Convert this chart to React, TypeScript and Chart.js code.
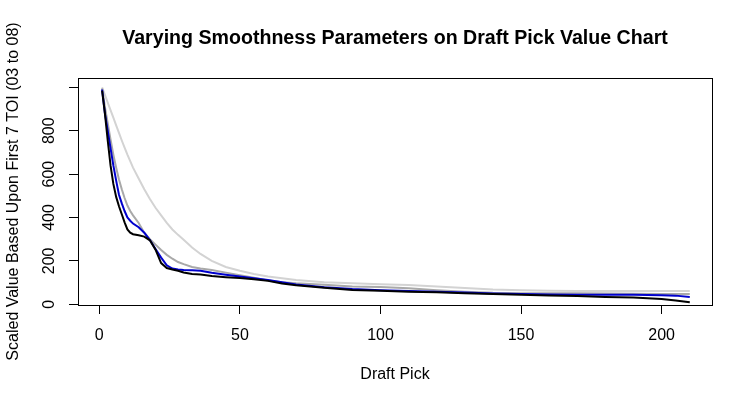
import React, { useEffect, useRef } from "react";
import { Chart, registerables } from "chart.js";

Chart.register(...registerables);

const TITLE = "Varying Smoothness Parameters on Draft Pick Value Chart";
const X_TITLE = "Draft Pick";
const Y_TITLE = "Scaled Value Based Upon First 7 TOI (03 to 08)";

const picks = [1, 2, 3, 4, 5, 6, 7, 8, 9, 10, 11, 12, 14, 16, 18, 20, 22, 24, 26, 28, 30, 33, 36, 40, 45, 50, 55, 60, 65, 70, 80, 90, 100, 110, 120, 130, 140, 150, 160, 170, 180, 190, 200, 205, 210];

const blackSeries = [985, 880, 755, 640, 555, 495, 452, 415, 378, 345, 330, 323, 318, 312, 295, 252, 190, 167, 160, 155, 147, 140, 137, 130, 125, 121, 116, 108, 96, 88, 76, 66, 62, 58, 55, 51, 47, 44, 41, 38, 34, 31, 24, 18, 9];
const blueSeries = [990, 880, 800, 720, 640, 570, 505, 465, 430, 400, 385, 372, 355, 330, 296, 255, 215, 180, 165, 160, 158, 157, 155, 145, 136, 128, 120, 112, 102, 91, 79, 70, 65, 61, 58, 54, 50, 47, 45, 44, 44, 44, 42, 40, 34];
const darkGraySeries = [995, 910, 835, 760, 690, 630, 575, 530, 490, 455, 430, 410, 375, 330, 300, 275, 250, 228, 210, 195, 185, 172, 165, 158, 146, 134, 122, 110, 102, 97, 90, 82, 80, 74, 65, 58, 53, 51, 51, 51, 50, 49, 48, 47, 47];
const lightGraySeries = [1000, 965, 930, 895, 860, 825, 790, 755, 722, 690, 660, 630, 580, 530, 485, 445, 410, 375, 345, 320, 298, 262, 232, 200, 172, 155, 140, 128, 120, 112, 102, 97, 93, 89, 82, 75, 68, 65, 63, 61, 61, 61, 61, 61, 61];

const xTicks = [0, 50, 100, 150, 200];
const yTicks = [0, 200, 400, 600, 800, 1000];
const yLabelled = [0, 200, 400, 600, 800];

const FONT = "'Liberation Sans', Arial, sans-serif";

const boxPlugin = {
  id: "rbox",
  afterDraw(chart: any) {
    const { ctx, chartArea } = chart;
    ctx.save();
    ctx.strokeStyle = "#000";
    ctx.lineWidth = 1;
    const l = Math.round(chartArea.left) + 0.5;
    const t = Math.round(chartArea.top) + 0.5;
    const r = Math.round(chartArea.right) + 0.5;
    const b = Math.round(chartArea.bottom) + 0.5;
    ctx.strokeRect(l, t, r - l, b - t);
    ctx.restore();
  },
};

export default function App() {
  const ref = useRef<HTMLCanvasElement | null>(null);
  useEffect(() => {
    if (!ref.current) return;
    const mk = (vals: number[]) => picks.map((x, i) => ({ x, y: vals[i] }));
    const ds = (label: string, vals: number[], color: string) => ({
      label,
      data: mk(vals),
      borderColor: color,
      backgroundColor: color,
      borderWidth: 2,
      pointRadius: 0,
      tension: 0,
      fill: false,
    });
    const chart = new Chart(ref.current, {
      type: "line",
      data: {
        datasets: [
          ds("black", blackSeries, "#000000"),
          ds("blue", blueSeries, "#0000CD"),
          ds("darkgray", darkGraySeries, "#A9A9A9"),
          ds("lightgray", lightGraySeries, "#D3D3D3"),
        ],
      },
      options: {
        responsive: false,
        animation: false,
        devicePixelRatio: 1,
        layout: { padding: { left: 0, right: 41, top: 0, bottom: 0 } },
        plugins: {
          legend: { display: false },
          tooltip: { enabled: false },
          title: {
            display: true,
            fullSize: false,
            text: TITLE,
            color: "#000",
            font: { family: FONT, size: 19.6, weight: "bold" },
            padding: { top: 27.3, bottom: 27.2 },
          },
        },
        scales: {
          x: {
            type: "linear",
            min: -7.57,
            max: 217.9,
            afterBuildTicks: (s: any) => {
              s.ticks = xTicks.map((v) => ({ value: v }));
            },
            afterFit: (s: any) => {
              s.height = 99;
            },
            ticks: {
              color: "#000",
              font: { family: FONT, size: 16 },
              padding: 11.5,
              maxRotation: 0,
              autoSkip: false,
            },
            grid: {
              display: true,
              drawOnChartArea: false,
              drawTicks: true,
              tickLength: 9,
              color: "#000",
              lineWidth: 1,
            },
            border: { display: false },
            title: {
              display: true,
              text: X_TITLE,
              color: "#000",
              font: { family: FONT, size: 16 },
              padding: { top: 0, bottom: 19.9 },
            },
          },
          y: {
            type: "linear",
            min: -3.2,
            max: 1042.9,
            afterBuildTicks: (s: any) => {
              s.ticks = yTicks.map((v) => ({ value: v }));
            },
            afterFit: (s: any) => {
              s.width = 78;
            },
            ticks: {
              color: "#000",
              font: { family: FONT, size: 16 },
              padding: 6.5,
              minRotation: 90,
              maxRotation: 90,
              crossAlign: "center",
              autoSkip: false,
              callback: (v: any) => (yLabelled.includes(Number(v)) ? String(v) : ""),
            },
            grid: {
              display: true,
              drawOnChartArea: false,
              drawTicks: true,
              tickLength: 9,
              color: "#000",
              lineWidth: 1,
            },
            border: { display: false },
            title: {
              display: true,
              text: Y_TITLE,
              color: "#000",
              font: { family: FONT, size: 16 },
              padding: { top: 3.5, bottom: 0 },
            },
          },
        },
      } as any,
      plugins: [boxPlugin],
    });
    return () => chart.destroy();
  }, []);
  return (
    <div style={{ position: "absolute", left: 0, top: 0, width: 753, height: 404, background: "#fff" }}>
      <canvas ref={ref} width={753} height={404} />
    </div>
  );
}
